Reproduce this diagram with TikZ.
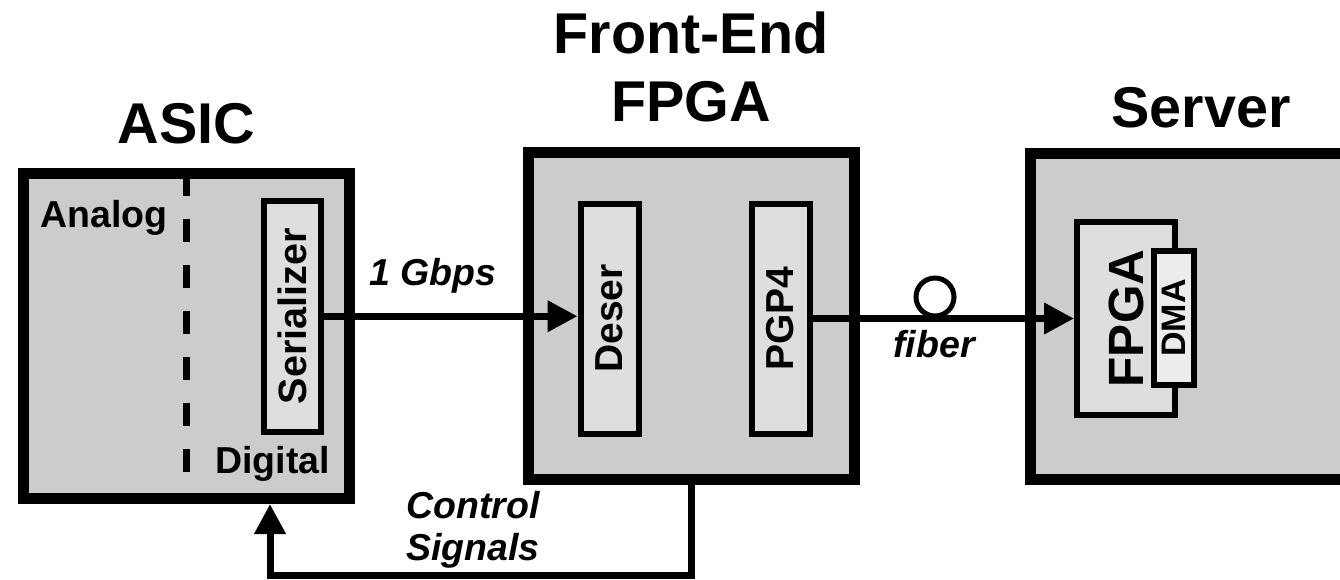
\documentclass[tikz,border=0pt]{standalone}
\usepackage{fontspec}
\setmainfont{Liberation Sans}
\usepackage{graphicx}
\usetikzlibrary{arrows.meta}
\definecolor{outerfill}{HTML}{CCCCCC}
\definecolor{innerfill}{HTML}{DEDEDE}
\definecolor{dmafill}{HTML}{ECECEC}
\begin{document}
\begin{tikzpicture}[x=1pt,y=-1pt,
  bigbox/.style={draw, line width=11pt, fill=outerfill, inner sep=0pt},
  subbox/.style={draw, line width=6pt, fill=innerfill, inner sep=0pt},
  conn/.style={line width=7pt},
  arr/.style={-{Triangle[length=30pt,width=30pt]}},
  divider/.style={line width=7pt, dash pattern=on 23pt off 23pt},
  title/.style={font=\fontsize{57.5}{68}\selectfont\bfseries, inner sep=0pt, align=center},
  lbl/.style={font=\fontsize{37.5}{42}\selectfont\bfseries, inner sep=0pt},
  ilbl/.style={font=\fontsize{37.5}{42}\selectfont\bfseries\itshape, inner sep=0pt, align=center}
]
\useasboundingbox (0,0) rectangle (1340,579);
\clip (0,0) rectangle (1340,579);

% outer boxes
\node[bigbox, minimum width=326pt, minimum height=325.5pt] (asic) at (186.5,335.75) {};
\node[bigbox, minimum width=326.5pt, minimum height=327pt] (fe) at (691.25,316) {};
\node[bigbox, minimum width=326pt, minimum height=326pt] (srv) at (1193.5,316) {};

% analog / digital divider
\draw[divider] (186.5,172.5) -- (186.5,471.5);

% inner boxes
\node[subbox, minimum width=57pt, minimum height=230.5pt] (ser) at (292.5,316.25)
  {\rotatebox{90}{\fontsize{39.5}{41}\selectfont\bfseries Serializer}};
\node[subbox, minimum width=58pt, minimum height=230pt] (deser) at (609.5,318.5)
  {\rotatebox{90}{\fontsize{39}{41}\selectfont\bfseries Deser}};
\node[subbox, minimum width=58pt, minimum height=230pt] (pgp) at (780.5,318.5)
  {\rotatebox{90}{\fontsize{39}{41}\selectfont\bfseries PGP4}};
\node[subbox, minimum width=98pt, minimum height=193pt] (sfpga) at (1126,318.5)
  {\rotatebox{90}{\fontsize{49.5}{51}\selectfont\bfseries FPGA}};
\node[subbox, fill=dmafill, minimum width=40pt, minimum height=134pt] (dma) at (1174,318)
  {\rotatebox{90}{\fontsize{34}{36}\selectfont\bfseries DMA}};

% connectors
\draw[conn, arr] (ser.east) -- (ser.east -| deser.west);
\draw[conn, arr] (pgp.east) -- (pgp.east -| sfpga.west);
\node[draw, circle, line width=5pt, minimum size=38pt, inner sep=0pt] (loop) at (935,297) {};
\coordinate (cret) at (270,575);
\draw[conn, arr] (fe.south) |- (cret) -- (cret |- asic.south);

% labels
\node[lbl, anchor=base west] (analog) at (40,227) {Analog};
\node[lbl, anchor=base west] (digital) at (215,473) {Digital};
\node[ilbl, anchor=base west] (gbps) at (369,285) {1 Gbps};
\node[ilbl, anchor=base] (fiber) at (934,357) {fiber};
\node[ilbl, anchor=center] (ctrl) at (473,530) {Control\\Signals};

% titles
\node[title, anchor=base] (tasic) at (186.5,143) {ASIC};
\node[title, anchor=center] (tfe) at (691,66.5) {Front-End\\FPGA};
\node[title, anchor=base] (tsrv) at (1201,127) {Server};
\end{tikzpicture}
\end{document}
